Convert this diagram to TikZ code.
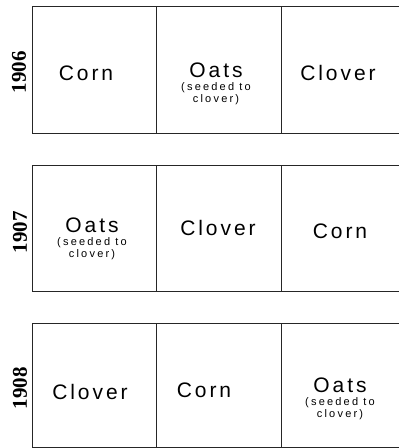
\documentclass[tikz,border=0pt]{standalone}
\usepackage{fontspec}
\newfontfamily\handfont[LetterSpace=14]{Liberation Sans}
\newfontfamily\notefont[LetterSpace=20]{Liberation Sans}
\newfontfamily\yearfont{Liberation Serif}
\usetikzlibrary{positioning}
\tikzset{
  plot/.style={draw=black!85, line width=0.9pt},
  crop/.style={font=\handfont\fontsize{21}{22}\selectfont, inner sep=0pt},
  seednote/.style={font=\notefont\fontsize{11}{12}\selectfont, align=center, inner sep=0pt},
  yearlbl/.style={font=\yearfont\bfseries\fontsize{21}{21}\selectfont, rotate=90, inner sep=0pt},
}

\begin{document}
\begin{tikzpicture}[x=1pt,y=-1pt]
  \useasboundingbox (0,0) rectangle (399,448);
  % three rows of fields, open on the right
  \foreach \t/\b in {6/133, 165/291, 323/447}{
    \draw[plot] (399,\t) -- (32,\t) -- (32,\b) -- (399,\b);
    \draw[plot] (156,\t) -- (156,\b);
    \draw[plot] (281,\t) -- (281,\b);
  }
  % 1906
  \node[yearlbl] (y1906) at (19,72) {1906};
  \node[crop] (corn1) at (86,73) {Corn};
  \node[crop] (oats1) at (216,70) {Oats};
  \node[seednote,below=5pt of oats1] (seed1) {(seeded to\\clover)};
  \node[crop] (clover1) at (338,73) {Clover};
  % 1907
  \node[yearlbl] (y1907) at (20,232) {1907};
  \node[crop] (oats2) at (92,225) {Oats};
  \node[seednote,below=5pt of oats2] (seed2) {(seeded to\\clover)};
  \node[crop] (clover2) at (218,228) {Clover};
  \node[crop] (corn2) at (340,231) {Corn};
  % 1908
  \node[yearlbl] (y1908) at (20,388) {1908};
  \node[crop] (clover3) at (90,392) {Clover};
  \node[crop] (corn3) at (204,390) {Corn};
  \node[crop] (oats3) at (340,385) {Oats};
  \node[seednote,below=5pt of oats3] (seed3) {(seeded to\\clover)};
\end{tikzpicture}
\end{document}
